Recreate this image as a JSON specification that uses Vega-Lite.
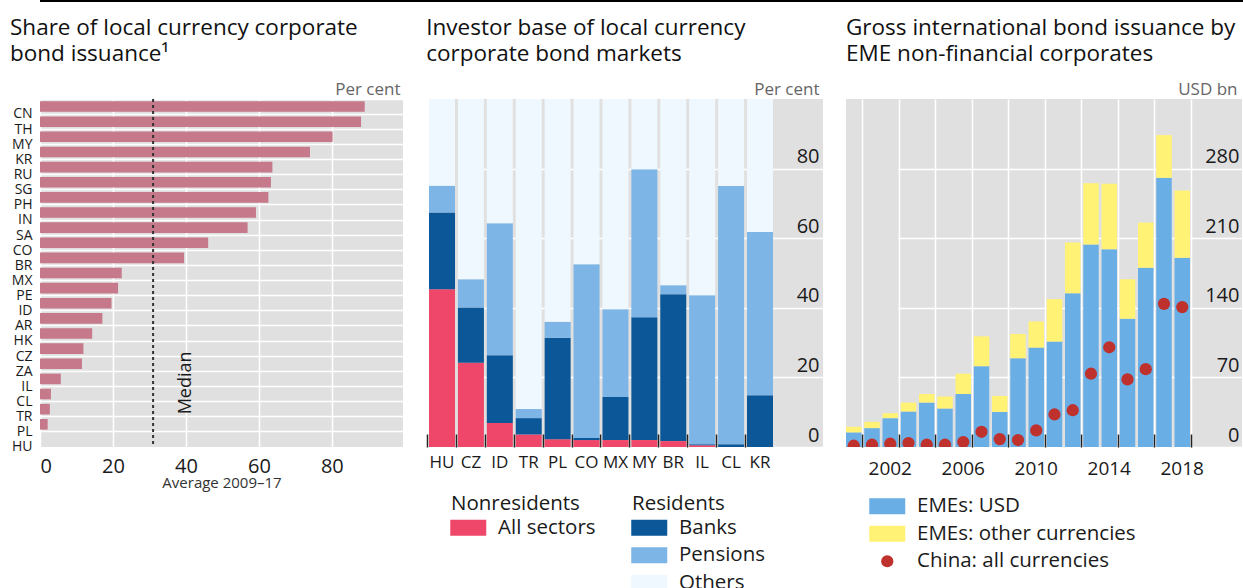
{
  "$schema": "https://vega.github.io/schema/vega-lite/v6.json",
  "padding": 0,
  "background": "white",
  "spacing": 14,
  "config": {
    "font": "Open Sans",
    "view": {"stroke": null},
    "axis": {"labelColor": "#1a1a1a", "titleColor": "#1a1a1a", "titleFontWeight": "normal", "gridColor": "#ffffff", "gridWidth": 1.5, "gridOpacity": 1},
    "title": {"fontSize": 22.5, "fontWeight": "normal", "color": "#111111", "lineHeight": 26, "anchor": "start", "frame": "bounds"},
    "legend": {"labelFontSize": 20.5, "titleFontSize": 20.5, "titleFontWeight": "normal", "labelColor": "#1a1a1a", "titleColor": "#1a1a1a", "symbolStrokeWidth": 0, "symbolSize": 256, "symbolType": "M-2.25,-1L2.25,-1L2.25,1L-2.25,1Z", "symbolOpacity": 1, "rowPadding": 6.5, "padding": 0, "labelOffset": 19.5, "symbolOffset": 7, "titlePadding": 3, "orient": "none", "labelLimit": 400}
  },
  "vconcat": [
    {
      "width": 1243,
      "height": 1,
      "data": {"values": [{"v": 0}]},
      "mark": {"type": "rule", "color": "#000000", "strokeWidth": 2},
      "encoding": {"y": {"field": "v", "type": "quantitative", "axis": null, "scale": {"domain": [0, 1]}}}
    },
    {
      "spacing": 23,
      "hconcat": [
        {
          "width": 363,
          "height": 348,
          "view": {"fill": "#e0e0e0", "stroke": null},
          "title": {"text": ["Share of local currency corporate", "bond issuance¹"], "dx": 10, "offset": 15},
          "layer": [
            {
              "data": {"values": [
                {"country": "CN", "share": 89.0}, {"country": "TH", "share": 88.0}, {"country": "MY", "share": 80.2},
                {"country": "KR", "share": 74.0}, {"country": "RU", "share": 63.7}, {"country": "SG", "share": 63.3},
                {"country": "PH", "share": 62.6}, {"country": "IN", "share": 59.2}, {"country": "SA", "share": 56.9},
                {"country": "CO", "share": 46.1}, {"country": "BR", "share": 39.5}, {"country": "MX", "share": 22.4},
                {"country": "PE", "share": 21.4}, {"country": "ID", "share": 19.6}, {"country": "AR", "share": 17.1},
                {"country": "HK", "share": 14.3}, {"country": "CZ", "share": 11.9}, {"country": "ZA", "share": 11.5},
                {"country": "IL", "share": 5.7}, {"country": "CL", "share": 3.0}, {"country": "TR", "share": 2.7},
                {"country": "PL", "share": 2.1}, {"country": "HU", "share": 0}
              ]},
              "mark": {"type": "bar", "color": "#c5798b"},
              "encoding": {
                "y": {"field": "country", "type": "nominal",
                  "scale": {"domain": ["CN","TH","MY","KR","RU","SG","PH","IN","SA","CO","BR","MX","PE","ID","AR","HK","CZ","ZA","IL","CL","TR","PL","HU"], "paddingInner": 0.3, "paddingOuter": 0.15},
                  "axis": {"title": "Per cent", "titleAngle": 0, "titleX": 360, "titleY": -5, "titleAlign": "right", "titleBaseline": "alphabetic", "titleFontSize": 17, "titleColor": "#666666",
                    "labelFontSize": 14, "labelPadding": 8, "ticks": false, "domain": false, "grid": true, "bandPosition": -0.214, "labelOffset": 7.9, "minExtent": 40}},
                "x": {"field": "share", "type": "quantitative", "scale": {"domain": [0, 99.5], "nice": false},
                  "axis": {"values": [0, 20, 40, 60, 80], "title": "Average 2009–17", "titleFontSize": 15, "titleColor": "#333333", "titlePadding": -1, "labelFontSize": 20, "labelPadding": 9, "ticks": false, "domain": false, "grid": true}}
              }
            },
            {
              "data": {"values": [{"median": 31}]},
              "mark": {"type": "rule", "strokeDash": [3, 3], "strokeWidth": 2, "color": "#333333"},
              "encoding": {"x": {"field": "median", "type": "quantitative"}}
            },
            {
              "data": {"values": [{"median": 31, "country": "IL", "label": "Median"}]},
              "mark": {"type": "text", "angle": 270, "baseline": "middle", "align": "center", "dy": 33, "dx": -4, "fontSize": 18, "color": "#1a1a1a"},
              "encoding": {
                "x": {"field": "median", "type": "quantitative"},
                "y": {"field": "country", "type": "nominal"},
                "text": {"field": "label"}
              }
            }
          ]
        },
        {
          "width": 394,
          "height": 348,
          "view": {"fill": "#e0e0e0", "stroke": null},
          "title": {"text": ["Investor base of local currency", "corporate bond markets"], "dx": 0, "offset": 15},
          "data": {"values": [
            {"country": "HU", "sector": "All sectors", "value": 45.3}, {"country": "HU", "sector": "Banks", "value": 22.1}, {"country": "HU", "sector": "Pensions", "value": 7.7}, {"country": "HU", "sector": "Others", "value": 24.9},
            {"country": "CZ", "sector": "All sectors", "value": 24.2}, {"country": "CZ", "sector": "Banks", "value": 15.9}, {"country": "CZ", "sector": "Pensions", "value": 8.1}, {"country": "CZ", "sector": "Others", "value": 51.8},
            {"country": "ID", "sector": "All sectors", "value": 6.9}, {"country": "ID", "sector": "Banks", "value": 19.5}, {"country": "ID", "sector": "Pensions", "value": 37.9}, {"country": "ID", "sector": "Others", "value": 35.7},
            {"country": "TR", "sector": "All sectors", "value": 3.6}, {"country": "TR", "sector": "Banks", "value": 4.7}, {"country": "TR", "sector": "Pensions", "value": 2.6}, {"country": "TR", "sector": "Others", "value": 89.1},
            {"country": "PL", "sector": "All sectors", "value": 2.2}, {"country": "PL", "sector": "Banks", "value": 29.2}, {"country": "PL", "sector": "Pensions", "value": 4.6}, {"country": "PL", "sector": "Others", "value": 64.0},
            {"country": "CO", "sector": "All sectors", "value": 2.0}, {"country": "CO", "sector": "Banks", "value": 0.6}, {"country": "CO", "sector": "Pensions", "value": 49.9}, {"country": "CO", "sector": "Others", "value": 47.5},
            {"country": "MX", "sector": "All sectors", "value": 2.0}, {"country": "MX", "sector": "Banks", "value": 12.4}, {"country": "MX", "sector": "Pensions", "value": 25.2}, {"country": "MX", "sector": "Others", "value": 60.4},
            {"country": "MY", "sector": "All sectors", "value": 2.0}, {"country": "MY", "sector": "Banks", "value": 35.3}, {"country": "MY", "sector": "Pensions", "value": 42.5}, {"country": "MY", "sector": "Others", "value": 20.2},
            {"country": "BR", "sector": "All sectors", "value": 1.7}, {"country": "BR", "sector": "Banks", "value": 42.2}, {"country": "BR", "sector": "Pensions", "value": 2.6}, {"country": "BR", "sector": "Others", "value": 53.5},
            {"country": "IL", "sector": "All sectors", "value": 0.5}, {"country": "IL", "sector": "Banks", "value": 0.3}, {"country": "IL", "sector": "Pensions", "value": 42.8}, {"country": "IL", "sector": "Others", "value": 56.4},
            {"country": "CL", "sector": "All sectors", "value": 0}, {"country": "CL", "sector": "Banks", "value": 0.8}, {"country": "CL", "sector": "Pensions", "value": 74.2}, {"country": "CL", "sector": "Others", "value": 25.0},
            {"country": "KR", "sector": "All sectors", "value": 0}, {"country": "KR", "sector": "Banks", "value": 14.9}, {"country": "KR", "sector": "Pensions", "value": 46.9}, {"country": "KR", "sector": "Others", "value": 38.2}
          ]},
          "transform": [{"calculate": "indexof(['All sectors', 'Banks', 'Pensions', 'Others'], datum.sector)", "as": "stackRank"}],
          "layer": [
            {
              "mark": {"type": "bar"},
              "encoding": {
                "x": {"field": "country", "type": "nominal",
                  "scale": {"domain": ["HU","CZ","ID","TR","PL","CO","MX","MY","BR","IL","CL","KR"], "range": [0, 344], "paddingInner": 0.1, "paddingOuter": 0},
                  "axis": {"title": null, "labelAngle": 0, "labelFontSize": 17, "tickSize": -13, "tickColor": "#222222", "tickWidth": 1.5, "domain": false, "bandPosition": -0.0556, "labelOffset": 0, "labelPadding": 20, "grid": false}},
                "y": {"field": "value", "type": "quantitative", "stack": "zero", "scale": {"domain": [0, 100], "nice": false},
                  "axis": {"orient": "right", "values": [0, 20, 40, 60, 80], "labelAlign": "right", "labelPadding": -4, "labelBaseline": "alphabetic", "labelOffset": -6, "labelFontSize": 20, "ticks": false, "domain": false, "grid": true,
                    "title": "Per cent", "titleAngle": 0, "titleX": -4, "titleY": -5, "titleAlign": "right", "titleBaseline": "alphabetic", "titleFontSize": 17, "titleColor": "#666666"}},
                "order": {"field": "stackRank", "type": "quantitative", "sort": "ascending"},
                "color": {"field": "sector", "type": "nominal",
                  "scale": {"domain": ["All sectors", "Banks", "Pensions", "Others"], "range": ["#ef476a", "#0b5797", "#7db6e6", "#eff8fe"]}, "legend": null}
              }
            },
            {
              "transform": [{"filter": "datum.sector === 'All sectors'"}],
              "mark": {"type": "bar", "opacity": 0},
              "encoding": {
                "x": {"field": "country", "type": "nominal"},
                "y": {"field": "value", "type": "quantitative"},
                "color": {"field": "sector", "type": "nominal",
                  "scale": {"domain": ["All sectors"], "range": ["#ef476a"]},
                  "legend": {"title": "Nonresidents", "legendX": 22, "legendY": 395, "symbolOpacity": 1}}
              }
            },
            {
              "transform": [{"filter": "datum.sector !== 'All sectors'"}],
              "mark": {"type": "bar", "opacity": 0},
              "encoding": {
                "x": {"field": "country", "type": "nominal"},
                "y": {"field": "value", "type": "quantitative"},
                "color": {"field": "sector", "type": "nominal", "sort": ["Banks", "Pensions", "Others"],
                  "scale": {"domain": ["Banks", "Pensions", "Others"], "range": ["#0b5797", "#7db6e6", "#eff8fe"]},
                  "legend": {"title": "Residents", "legendX": 203, "legendY": 395, "symbolOpacity": 1}}
              }
            }
          ],
          "resolve": {"scale": {"color": "independent"}}
        },
        {
          "width": 396,
          "height": 348,
          "view": {"fill": "#e0e0e0", "stroke": null},
          "title": {"text": ["Gross international bond issuance by", "EME non-financial corporates"], "dx": 0, "offset": 15},
          "layer": [
            {
              "data": {"name": "bars", "values": [
                {"year": 2000, "series": "EMEs: USD", "value": 14.7}, {"year": 2000, "series": "EMEs: other currencies", "value": 5.6},
                {"year": 2001, "series": "EMEs: USD", "value": 19.0}, {"year": 2001, "series": "EMEs: other currencies", "value": 6.3},
                {"year": 2002, "series": "EMEs: USD", "value": 29.0}, {"year": 2002, "series": "EMEs: other currencies", "value": 5.0},
                {"year": 2003, "series": "EMEs: USD", "value": 35.7}, {"year": 2003, "series": "EMEs: other currencies", "value": 9.0},
                {"year": 2004, "series": "EMEs: USD", "value": 44.7}, {"year": 2004, "series": "EMEs: other currencies", "value": 8.6},
                {"year": 2005, "series": "EMEs: USD", "value": 38.7}, {"year": 2005, "series": "EMEs: other currencies", "value": 12.0},
                {"year": 2006, "series": "EMEs: USD", "value": 53.3}, {"year": 2006, "series": "EMEs: other currencies", "value": 20.4},
                {"year": 2007, "series": "EMEs: USD", "value": 81.3}, {"year": 2007, "series": "EMEs: other currencies", "value": 30.0},
                {"year": 2008, "series": "EMEs: USD", "value": 35.3}, {"year": 2008, "series": "EMEs: other currencies", "value": 16.0},
                {"year": 2009, "series": "EMEs: USD", "value": 89.3}, {"year": 2009, "series": "EMEs: other currencies", "value": 24.4},
                {"year": 2010, "series": "EMEs: USD", "value": 100.0}, {"year": 2010, "series": "EMEs: other currencies", "value": 26.3},
                {"year": 2011, "series": "EMEs: USD", "value": 106.0}, {"year": 2011, "series": "EMEs: other currencies", "value": 42.7},
                {"year": 2012, "series": "EMEs: USD", "value": 154.7}, {"year": 2012, "series": "EMEs: other currencies", "value": 51.0},
                {"year": 2013, "series": "EMEs: USD", "value": 203.7}, {"year": 2013, "series": "EMEs: other currencies", "value": 61.6},
                {"year": 2014, "series": "EMEs: USD", "value": 199.0}, {"year": 2014, "series": "EMEs: other currencies", "value": 65.7},
                {"year": 2015, "series": "EMEs: USD", "value": 129.0}, {"year": 2015, "series": "EMEs: other currencies", "value": 39.7},
                {"year": 2016, "series": "EMEs: USD", "value": 180.3}, {"year": 2016, "series": "EMEs: other currencies", "value": 45.4},
                {"year": 2017, "series": "EMEs: USD", "value": 270.7}, {"year": 2017, "series": "EMEs: other currencies", "value": 43.0},
                {"year": 2018, "series": "EMEs: USD", "value": 190.3}, {"year": 2018, "series": "EMEs: other currencies", "value": 67.7}
              ]},
              "mark": {"type": "bar"},
              "encoding": {
                "x": {"field": "year", "type": "ordinal",
                  "scale": {"range": [0, 344], "paddingInner": 0.15, "paddingOuter": 0},
                  "axis": {"values": [2000, 2002, 2004, 2006, 2008, 2010, 2012, 2014, 2016, 2018], "labelExpr": "datum.value % 4 == 2 ? datum.label : ''", "bandPosition": 1.087, "labelOffset": 0, "tickSize": -13, "tickColor": "#222222", "tickWidth": 1.5, "grid": true, "domain": false, "labelAngle": 0, "labelFontSize": 19, "labelPadding": 25, "title": null}},
                "y": {"field": "value", "type": "quantitative", "stack": "zero", "scale": {"domain": [0, 350], "nice": false},
                  "axis": {"orient": "right", "values": [0, 70, 140, 210, 280], "labelAlign": "right", "labelPadding": -3, "labelBaseline": "alphabetic", "labelOffset": -6, "labelFontSize": 20, "ticks": false, "domain": false, "grid": true,
                    "title": "USD bn", "titleAngle": 0, "titleX": -5, "titleY": -5, "titleAlign": "right", "titleBaseline": "alphabetic", "titleFontSize": 17, "titleColor": "#666666"}},
                "order": {"field": "series", "type": "nominal", "sort": "ascending"},
                "color": {"field": "series", "type": "nominal",
                  "scale": {"domain": ["EMEs: USD", "EMEs: other currencies"], "range": ["#6aaee6", "#fff275"]}, "legend": null}
              }
            },
            {
              "data": {"values": [
                {"year": 2000, "series": "China: all currencies", "value": 1.3}, {"year": 2001, "series": "China: all currencies", "value": 2.3},
                {"year": 2002, "series": "China: all currencies", "value": 3.3}, {"year": 2003, "series": "China: all currencies", "value": 4.0},
                {"year": 2004, "series": "China: all currencies", "value": 2.3}, {"year": 2005, "series": "China: all currencies", "value": 2.3},
                {"year": 2006, "series": "China: all currencies", "value": 5.0}, {"year": 2007, "series": "China: all currencies", "value": 15.3},
                {"year": 2008, "series": "China: all currencies", "value": 8.0}, {"year": 2009, "series": "China: all currencies", "value": 7.0},
                {"year": 2010, "series": "China: all currencies", "value": 16.7}, {"year": 2011, "series": "China: all currencies", "value": 32.7},
                {"year": 2012, "series": "China: all currencies", "value": 37.0}, {"year": 2013, "series": "China: all currencies", "value": 73.7},
                {"year": 2014, "series": "China: all currencies", "value": 100.3}, {"year": 2015, "series": "China: all currencies", "value": 68.0},
                {"year": 2016, "series": "China: all currencies", "value": 78.3}, {"year": 2017, "series": "China: all currencies", "value": 144.0},
                {"year": 2018, "series": "China: all currencies", "value": 140.7}
              ]},
              "mark": {"type": "point", "filled": true, "opacity": 1, "size": 150, "clip": true, "color": "#bf312d"},
              "encoding": {
                "x": {"field": "year", "type": "ordinal"},
                "y": {"field": "value", "type": "quantitative", "stack": null}
              }
            },
            {
              "data": {"name": "bars"},
              "mark": {"type": "bar", "opacity": 0},
              "encoding": {
                "x": {"field": "year", "type": "ordinal"},
                "y": {"field": "value", "type": "quantitative"},
                "order": {"field": "series", "type": "nominal", "sort": "ascending"},
                "color": {"field": "series", "type": "nominal",
                  "scale": {"domain": ["EMEs: USD", "EMEs: other currencies", "China: all currencies"], "range": ["#6aaee6", "#fff275", "#bf312d"]},
                  "legend": {"title": null, "legendX": 24, "legendY": 397, "symbolOpacity": 1,
                    "encode": {"symbols": {"update": {
                      "shape": {"signal": "datum.value === 'China: all currencies' ? 'circle' : 'M-2.25,-1L2.25,-1L2.25,1L-2.25,1Z'"},
                      "size": {"signal": "datum.value === 'China: all currencies' ? 150 : 256"}}}}}}
              }
            }
          ],
          "resolve": {"scale": {"color": "independent"}}
        }
      ]
    }
  ]
}
